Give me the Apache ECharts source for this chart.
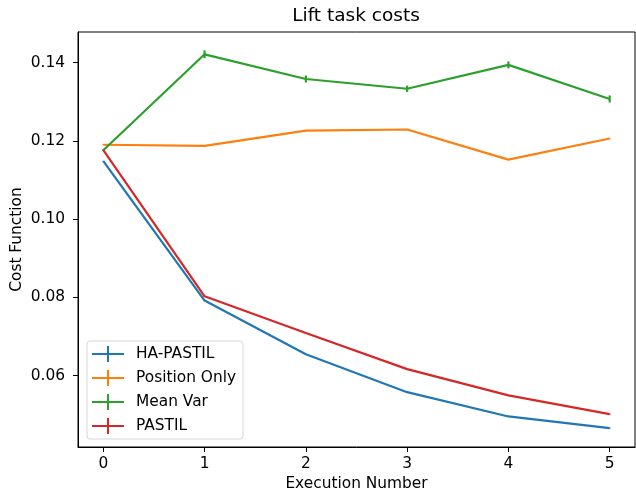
<!DOCTYPE html>
<html>
<head>
<meta charset="utf-8">
<script src="https://cdn.jsdelivr.net/npm/echarts@6/dist/echarts.min.js"></script>
<style>html,body{margin:0;padding:0;background:#fff}#c{width:636px;height:497px}</style>
</head>
<body>
<div id="c"></div>
<script>
var executions = [0, 1, 2, 3, 4, 5];
var seriesNames = ['HA-PASTIL', 'Position Only', 'Mean Var', 'PASTIL'];
var haPastil = [0.1148, 0.0792, 0.0655, 0.0558, 0.0496, 0.0466];
var positionOnly = [0.1190, 0.1187, 0.1226, 0.1229, 0.1152, 0.1206];
var meanVar = [0.1176, 0.1421, 0.1358, 0.1333, 0.1394, 0.1307];
var pastil = [0.1176, 0.0803, 0.0709, 0.0617, 0.0550, 0.0502];
var haPastilErr = [0.0001, 0.0001, 0.0001, 0.0001, 0.0001, 0.0001];
var positionOnlyErr = [0.0001, 0.0001, 0.0001, 0.0001, 0.0001, 0.0001];
var meanVarErr = [0.0002, 0.0010, 0.0009, 0.0008, 0.0009, 0.0009];
var pastilErr = [0.0001, 0.0001, 0.0001, 0.0001, 0.0001, 0.0001];
var xTicks = [0, 1, 2, 3, 4, 5];
var yTicks = [0.06, 0.08, 0.10, 0.12, 0.14];

var colors = ['#1f77b4', '#ff7f0e', '#2ca02c', '#d62728'];
var values = [haPastil, positionOnly, meanVar, pastil];
var errs = [haPastilErr, positionOnlyErr, meanVarErr, pastilErr];
var font = 'DejaVu Sans';
var fs = 15.4;
var plusIcon = 'path://M0,7 L32,7 L32,9 L0,9 Z M15,0 L17,0 L17,16 L15,16 Z';

var series = [];
seriesNames.forEach(function (name, i) {
  series.push({
    name: name,
    type: 'line',
    data: executions.map(function (x, j) { return [x, values[i][j]]; }),
    showSymbol: false,
    symbol: 'none',
    lineStyle: { color: colors[i], width: 2.2 },
    itemStyle: { color: colors[i] },
    z: 2 + i * 2,
    animation: false
  });
  series.push({
    name: name + ' err',
    type: 'custom',
    data: executions.map(function (x, j) { return [x, values[i][j], errs[i][j]]; }),
    renderItem: function (params, api) {
      var x = api.value(0), y = api.value(1), e = api.value(2);
      var p1 = api.coord([x, y - e]);
      var p2 = api.coord([x, y + e]);
      return {
        type: 'line',
        shape: { x1: p1[0], y1: p1[1], x2: p2[0], y2: p2[1] },
        style: { stroke: colors[i], lineWidth: 2.2 }
      };
    },
    z: 3 + i * 2,
    silent: true,
    animation: false
  });
});

var chart = echarts.init(document.getElementById('c'));
chart.setOption({
  animation: false,
  backgroundColor: '#fff',
  title: {
    text: 'Lift task costs',
    left: 351,
    textAlign: 'center',
    top: 2,
    textStyle: { fontFamily: font, fontSize: 18.5, fontWeight: 'normal', color: '#000' }
  },
  grid: {
    left: 78, right: 1, top: 32, bottom: 50,
    outerBoundsMode: 'none',
    containLabel: false,
    show: true, borderColor: '#000', borderWidth: 1, backgroundColor: 'transparent'
  },
  legend: {
    orient: 'vertical',
    left: 87,
    top: 341,
    padding: [5, 7, 5, 5],
    itemWidth: 32,
    itemHeight: 16,
    itemGap: 8,
    backgroundColor: 'rgba(255,255,255,0.8)',
    borderColor: '#d6d6d6',
    borderWidth: 1,
    borderRadius: 3,
    textStyle: { fontFamily: font, fontSize: fs, color: '#000', padding: [0, 0, 0, 7] },
    data: seriesNames.map(function (n) { return { name: n, icon: plusIcon }; })
  },
  xAxis: {
    type: 'value',
    min: -0.25,
    max: 5.25,
    name: 'Execution Number',
    nameLocation: 'middle',
    nameGap: 29,
    nameMoveOverlap: false,
    nameTextStyle: { fontFamily: font, fontSize: fs, color: '#000' },
    axisLine: { show: true, onZero: false, lineStyle: { color: '#000', width: 1 } },
    axisTick: { show: true, customValues: xTicks, length: 5, lineStyle: { color: '#000', width: 1 } },
    axisLabel: { customValues: xTicks, margin: 9, fontFamily: font, fontSize: fs, color: '#000',
      formatter: function (v) { return String(v); } },
    splitLine: { show: false }
  },
  yAxis: {
    type: 'value',
    min: 0.0418,
    max: 0.1478,
    name: 'Cost Function',
    nameLocation: 'middle',
    nameGap: 54,
    nameMoveOverlap: false,
    nameTextStyle: { fontFamily: font, fontSize: fs, color: '#000' },
    axisLine: { show: true, onZero: false, lineStyle: { color: '#000', width: 1 } },
    axisTick: { show: true, customValues: yTicks, length: 5, lineStyle: { color: '#000', width: 1 } },
    axisLabel: { customValues: yTicks, margin: 13, fontFamily: font, fontSize: fs, color: '#000',
      formatter: function (v) { return v.toFixed(2); } },
    splitLine: { show: false }
  },
  series: series
});
</script>
</body>
</html>
